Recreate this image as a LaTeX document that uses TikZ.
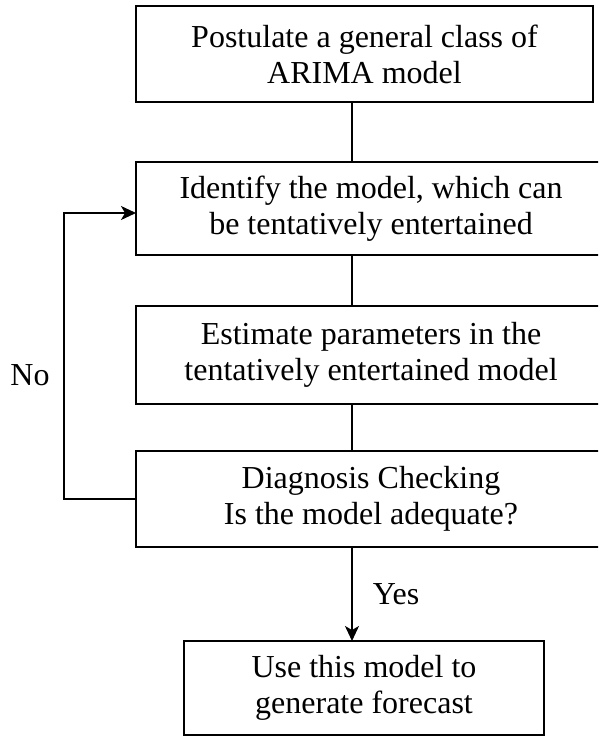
\documentclass[tikz,border=0pt]{standalone}
\usepackage{fontspec}
\setmainfont{Liberation Serif}
\usetikzlibrary{arrows.meta,positioning}

\begin{document}
\begin{tikzpicture}[
  x=1pt, y=1pt,
  every node/.style={font=\fontsize{32}{36}\selectfont},
  stagebox/.style={
    rectangle,
    draw=black,
    line width=1.6pt,
    minimum width=470pt,
    minimum height=96pt,
    align=center,
    inner sep=0pt,
    outer sep=0pt
  },
  line/.style={line width=1.6pt},
  arrow/.style={line width=1.6pt, -{Stealth[length=15pt,width=14pt,inset=4pt]}},
  label_style/.style={inner sep=0pt}
]
\useasboundingbox (0,0) rectangle (598,740);
\clip (0,0) rectangle (598,740);

% Main column
\node[stagebox, minimum width=457pt] (postulate) at (364.5,686) {Postulate a general class of\\ARIMA model};
\node[stagebox, minimum height=93pt, below=60pt of postulate, xshift=6.5pt] (identify) {Identify the model, which can\\be tentatively entertained};
\node[stagebox, minimum height=98pt, below=51pt of identify] (estimate) {Estimate parameters in the\\tentatively entertained model};
\node[stagebox, below=47pt of estimate] (diagnose) {Diagnosis Checking\\Is the model adequate?};
\node[stagebox, minimum width=360pt, minimum height=94pt, below=94pt of diagnose, xshift=-7pt] (forecast) {Use this model to\\generate forecast};

% Connector spine
\coordinate (spine) at (352,0);

% Connections
\draw[line] (postulate.south -| spine) -- (identify.north -| spine);
\draw[line] (identify.south -| spine) -- (estimate.north -| spine);
\draw[line] (estimate.south -| spine) -- (diagnose.north -| spine);
\draw[arrow] (diagnose.south -| spine) -- node[label_style, right=20pt] {Yes} (forecast.north -| spine);

% Feedback loop
\draw[arrow] (diagnose.west) -- ++(-72,0) |- ([yshift=-4.5pt]identify.west);
\node[label_style] (no) at (30,365) {No};

\end{tikzpicture}
\end{document}
